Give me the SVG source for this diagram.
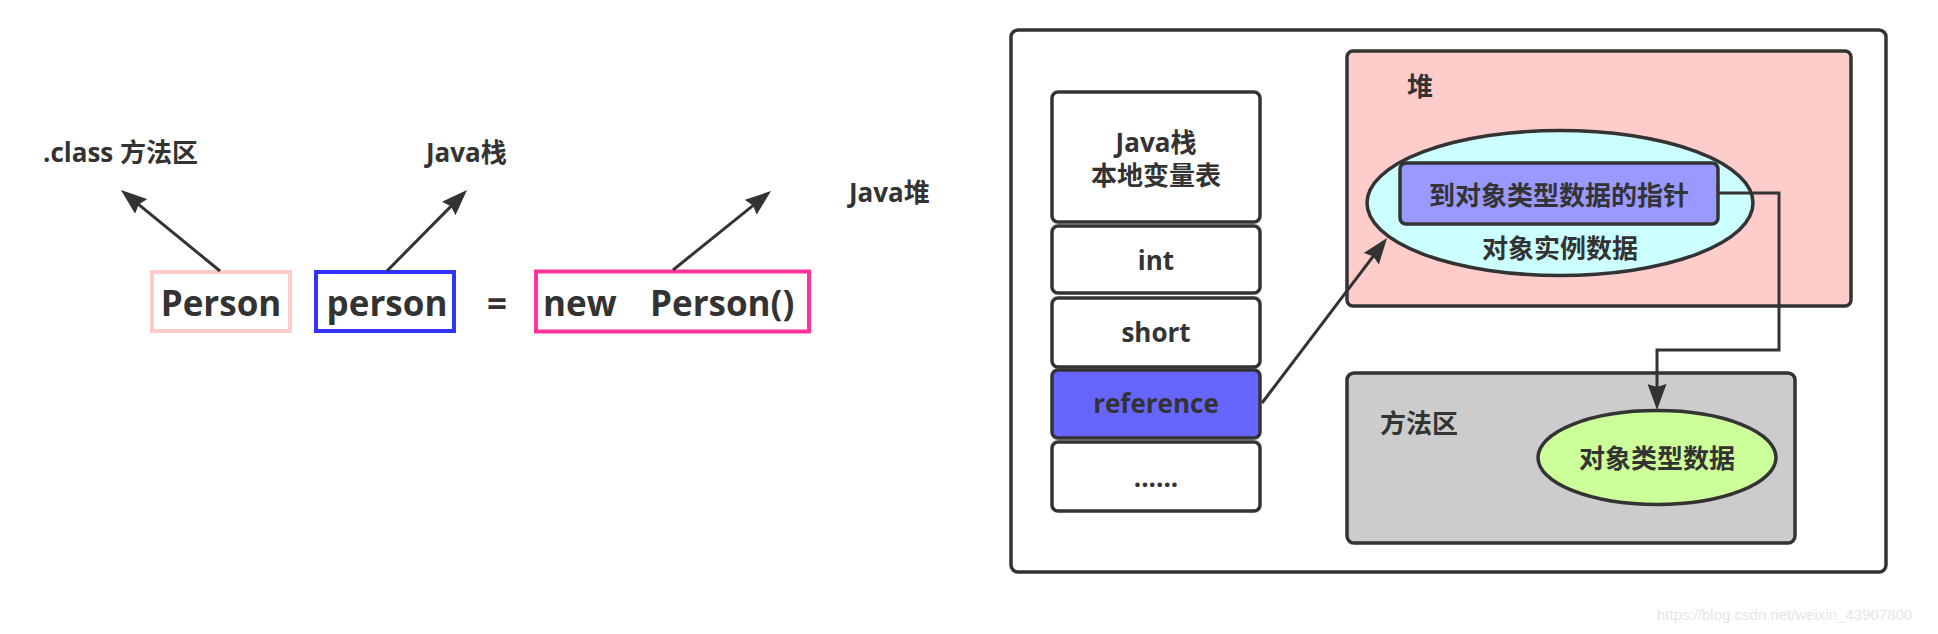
<svg xmlns="http://www.w3.org/2000/svg" width="1938" height="634" viewBox="0 0 1938 634">
<style>
text{font-family:"Open Sans","Noto Sans CJK SC",sans-serif;font-weight:bold;fill:#333333;}
.lbl{font-size:26px;}
.big{font-size:35px;}
.c{text-anchor:middle;}
.box{stroke:#333333;stroke-width:3.5;}
.line{fill:none;stroke:#333333;stroke-width:3;}
.wm{font-family:"Liberation Sans",Arial,sans-serif;font-weight:normal;font-size:15px;fill:#e6e6e6;}
</style>
<defs>
<marker id="arr" viewBox="0 0 26 19" refX="16" refY="9.5" markerWidth="26" markerHeight="19" markerUnits="userSpaceOnUse" orient="auto">
<path d="M0,0 L26,9.5 L0,19 L3,9.5 Z" fill="#333333"/>
</marker>
</defs>
<rect width="1938" height="634" fill="#ffffff"/>

<g id="label-class"><text class="lbl" x="43" y="162">.class 方法区</text></g>
<g id="label-stack"><text class="lbl" x="426" y="162">Java栈</text></g>
<g id="label-heap"><text class="lbl" x="849" y="202">Java堆</text></g>

<g id="type-Person">
<rect x="152" y="272" width="138" height="59" fill="none" stroke="#FFCCCC" stroke-width="4"/>
<text class="big c" x="221" y="316">Person</text>
</g>
<g id="var-person">
<rect x="316" y="272" width="138" height="59" fill="none" stroke="#3333FF" stroke-width="4"/>
<text class="big c" x="387" y="316">person</text>
</g>
<g id="equals"><text class="big c" x="497" y="316">=</text></g>
<g id="new-Person">
<rect x="536" y="271.5" width="273" height="60" fill="none" stroke="#FF3399" stroke-width="4"/>
<text class="big" x="543" y="316">new<tspan x="650">Person()</tspan></text>
</g>

<g id="outer"><rect x="1011" y="30" width="875" height="542" rx="7" fill="#ffffff" class="box" stroke-width="4"/></g>

<g id="stack">
<rect x="1052" y="92" width="208" height="130" rx="6" fill="#ffffff" class="box"/>
<text class="lbl c" x="1156" y="152">Java栈</text>
<text class="lbl c" x="1156" y="185">本地变量表</text>
</g>
<g id="cell-int">
<rect x="1052" y="226" width="208" height="67" rx="6" fill="#ffffff" class="box"/>
<text class="lbl c" x="1156" y="270">int</text>
</g>
<g id="cell-short">
<rect x="1052" y="298" width="208" height="69" rx="6" fill="#ffffff" class="box"/>
<text class="lbl c" x="1156" y="342">short</text>
</g>
<g id="cell-reference">
<rect x="1052" y="370" width="208" height="68" rx="6" fill="#6666FF" class="box"/>
<text class="lbl c" x="1156" y="413">reference</text>
</g>
<g id="cell-more">
<rect x="1052" y="442" width="208" height="69" rx="6" fill="#ffffff" class="box"/>
<text class="lbl c" x="1156" y="487">......</text>
</g>

<g id="heap">
<rect x="1347" y="51" width="504" height="255" rx="6" fill="#FFCCCC" class="box"/>
<text class="lbl c" x="1420" y="96">堆</text>
</g>
<g id="instance-data">
<ellipse cx="1560" cy="203" rx="193" ry="72.5" fill="#CCFFFF" class="box"/>
<text class="lbl c" x="1560" y="258">对象实例数据</text>
</g>
<g id="type-pointer">
<rect x="1400" y="163" width="318" height="61" rx="6" fill="#9999FF" class="box"/>
<text class="lbl c" x="1559" y="205">到对象类型数据的指针</text>
</g>

<g id="method-area">
<rect x="1347" y="373" width="448" height="170" rx="7" fill="#CCCCCC" class="box"/>
<text class="lbl c" x="1419" y="433">方法区</text>
</g>
<g id="type-data">
<ellipse cx="1657" cy="457.5" rx="119" ry="47" fill="#CCFF99" class="box"/>
<text class="lbl c" x="1657" y="468">对象类型数据</text>
</g>

<g id="connectors">
<path class="line" d="M220,271 L128.7,196.3" marker-end="url(#arr)"/>
<path class="line" d="M387,271 L460,197.1" marker-end="url(#arr)"/>
<path class="line" d="M673,270 L763.2,197.3" marker-end="url(#arr)"/>
<path class="line" d="M1262,403 L1381,246" marker-end="url(#arr)"/>
<path class="line" d="M1718,193 H1779 V350 H1657 V400" marker-end="url(#arr)"/>
</g>

<text class="wm" x="1657" y="620">https://blog.csdn.net/weixin_43907800</text>
</svg>
